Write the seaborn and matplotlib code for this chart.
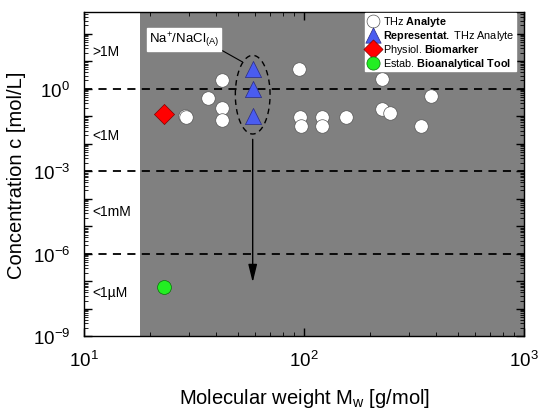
import numpy as np
import pandas as pd
import matplotlib
matplotlib.use("Agg")
import matplotlib.pyplot as plt
import matplotlib.ticker as mticker
import seaborn as sns

# ── data ───────────────────────────────────────────────────
thz_mw = [28.7, 29.0, 36.5, 42.3, 42.3, 42.3, 95.1, 95.8, 96.8, 120.5, 120.5,
          155.8, 225.5, 226.0, 245.5, 342.0, 376.0]
thz_conc = [0.103, 0.095, 0.46, 2.0, 0.2, 0.072, 5.3, 0.095, 0.045, 0.095, 0.045,
            0.09, 2.3, 0.18, 0.136, 0.045, 0.545]

rep_mw = [58.44, 58.44, 58.44]
rep_conc = [5.3, 1.0, 0.1]

bio_mw = [23.0]
bio_conc = [0.125]

tool_mw = [23.0]
tool_conc = [6.4e-8]

water_mw = 18.0
region_lines = [1e0, 1e-3, 1e-6]
region_labels = [">1M", "<1M", "<1mM", "<1µM"]
region_label_y = [24, 0.02, 3.5e-5, 4.0e-8]

labels = ["THz $\\bf{Analyte}$",
          "$\\bf{Representat.}$ THz Analyte",
          "Physiol. $\\bf{Biomarker}$",
          "Estab. $\\bf{Bioanalytical\\ Tool}$"]

# ── style ──────────────────────────────────────────────────
sns.set_style("ticks")
plt.rcParams["font.family"] = ["Liberation Sans", "DejaVu Sans"]
plt.rcParams["mathtext.fontset"] = "custom"
plt.rcParams["mathtext.rm"] = "Liberation Sans"
plt.rcParams["mathtext.it"] = "Liberation Sans:italic"
plt.rcParams["mathtext.bf"] = "Liberation Sans:bold"
for k in ["text.color", "axes.labelcolor", "xtick.color", "ytick.color", "axes.edgecolor"]:
    plt.rcParams[k] = "black"

fig = plt.figure(figsize=(5.41, 4.10), dpi=100)
ax = fig.add_axes([0.1553, 0.1773, 0.9686 - 0.1553, 0.9676 - 0.1773])
ax.set_xscale("log")
ax.set_yscale("log")
ax.set_xlim(10, 1e3)
ax.set_ylim(1e-9, 6e2)

ax.axvspan(water_mw, 1e3, color="#808080", lw=0, zorder=0)
for yv in region_lines:
    ax.axhline(yv, color="black", lw=1.3, dashes=(4.5, 3.5), zorder=1)
for lab, yv in zip(region_labels, region_label_y):
    ax.text(10.9, yv, lab, fontsize=10, va="center", ha="left")

groups = [
    (thz_mw, thz_conc, "o", "white", "#555555", 95),
    (rep_mw, rep_conc, "^", "#4a5cf0", "#2a2a80", 135),
    (bio_mw, bio_conc, "D", "#ff0000", "#800000", 105),
    (tool_mw, tool_conc, "o", "#22ee22", "#0a700a", 100),
]
for (xs, ys, mk, fc, ec, s), lab in zip(groups, labels):
    df = pd.DataFrame({"mw": xs, "c": ys})
    sns.scatterplot(data=df, x="mw", y="c", marker=mk, color=fc, edgecolor=ec,
                    linewidth=0.5, s=s, ax=ax, label=lab, zorder=3)

# ellipse around NaCl points (in log space)
t = np.linspace(0, 2 * np.pi, 200)
ex = 10 ** (np.log10(58.44) + 0.079 * np.cos(t))
ey = 10 ** (-0.217 + 1.43 * np.sin(t))
ax.plot(ex, ey, color="black", lw=1.0, dashes=(4, 3), zorder=2)

ax.annotate("Na$^{+}$/NaCl$_{\\rm(A)}$", xy=(52.5, 9.4), xytext=(28.4, 63.8),
            fontsize=9.5, ha="center", va="center",
            bbox=dict(boxstyle="square,pad=0.15", fc="white", ec="white"),
            arrowprops=dict(arrowstyle="-", color="black", lw=0.8,
                            relpos=(1, 0), shrinkA=0, shrinkB=0), zorder=4)
ax.annotate("", xy=(58.44, 10 ** -7.04), xytext=(58.44, 10 ** -1.84),
            arrowprops=dict(arrowstyle="-|>,head_width=0.22,head_length=0.9",
                            color="black", lw=1.0, shrinkA=0, shrinkB=0,
                            mutation_scale=12), zorder=4)

# ── axes / ticks ───────────────────────────────────────────
ax.xaxis.set_major_locator(mticker.LogLocator(base=10, numticks=10))
ax.xaxis.set_minor_locator(mticker.LogLocator(base=10, subs=np.arange(2, 10), numticks=20))
ax.yaxis.set_major_locator(mticker.LogLocator(base=10, subs=(1.0,), numticks=30))
ax.yaxis.set_minor_locator(mticker.LogLocator(base=10, subs=np.arange(2, 10), numticks=30))


def ylab(v, pos):
    e = int(round(np.log10(v)))
    return f"$10^{{{e}}}$" if e % 3 == 0 else ""


ax.yaxis.set_major_formatter(mticker.FuncFormatter(ylab))
ax.yaxis.set_minor_formatter(mticker.NullFormatter())
ax.tick_params(which="both", direction="in", top=True, right=True, color="black")
ax.tick_params(which="major", length=6, width=1)
ax.tick_params(which="minor", length=3, width=0.6)
ax.tick_params(axis="x", which="major", labelsize=13.5, pad=10)
ax.tick_params(axis="y", which="major", labelsize=13.5, pad=10)
for sp in ax.spines.values():
    sp.set_linewidth(1.0)
    sp.set_color("black")

ax.set_xlabel("Molecular weight M$_{\\rm w}$ [g/mol]", fontsize=14.5, labelpad=11)
ax.set_ylabel("Concentration c [mol/L]", fontsize=14.5, labelpad=5)

bb = ax.transAxes.inverted().transform(fig.transFigure.transform((516 / 541, 1 - 14 / 410)))
ax.legend(loc="upper right", bbox_to_anchor=(bb[0], bb[1]), borderaxespad=0,
          fontsize=7.8, frameon=True, fancybox=False, edgecolor="white",
          framealpha=1, borderpad=0.1, labelspacing=0.0, handletextpad=0.4,
          handlelength=1.2, markerscale=0.95)

fig.savefig("out.png", dpi=100)
